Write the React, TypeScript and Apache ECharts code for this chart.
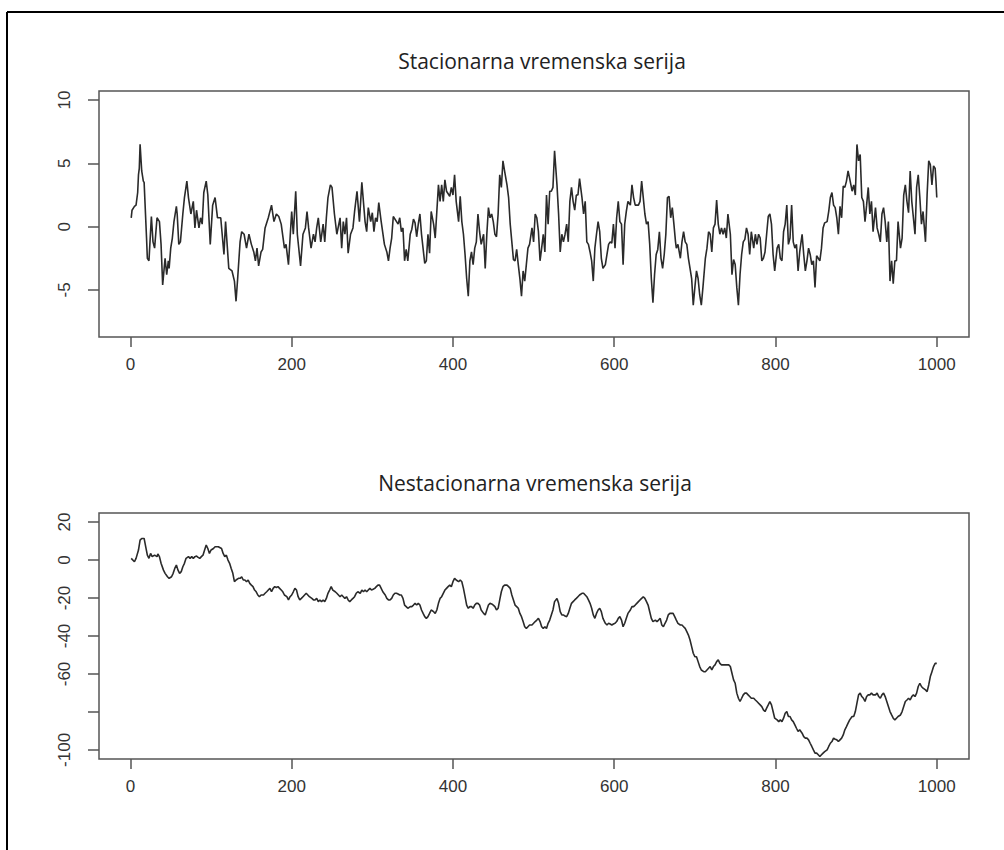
import React, { useEffect, useRef } from "react";
import * as echarts from "echarts";

// Axis ticks and labels
const xTicks = [0, 200, 400, 600, 800, 1000];
const stationaryTicks = [-5, 0, 5, 10];
const randomWalkTicks = [-100, -80, -60, -40, -20, 0, 20];
const randomWalkLabels = [-100, -60, -40, -20, 0, 20];

// Data limits (R-style axes add 4% on each side)
const xLimits = [1, 1000];
const stationaryLimits = [-8, 10];
const randomWalkLimits = [-100, 20];

const stationaryTitle = "Stacionarna vremenska serija";
const randomWalkTitle = "Nestacionarna vremenska serija";

// Stationary series: [t, value]
const stationary: [number, number][] = [
  [1,0.7],[2,1.3],[5,1.6],[7,1.7],[9,2.7],[10,4.1],[11,4.6],[12,6.5],[14,4.4],[16,3.6],[17,3.5],[20,-0.9],[21,-2.5],[23,-2.7],[26,0.8],[28,-1.2],[30,-1.7],[33,0.7],[36,0.4],[38,-1.4],[40,-4.6],[43,-2.5],[45,-3.8],[47,-2.7],[48,-3.3],[50,-1.7],[52,-0.9],[54,0.4],[57,1.6],[58,1.0],[60,-1.4],[62,-1.2],[65,1.0],[67,2.3],[70,3.6],[72,2.3],[75,1.0],[78,2.0],[80,-0.1],[82,1.3],[85,-0.1],[87,0.7],[89,0.2],[91,2.7],[94,3.6],[96,2.5],[99,-1.4],[102,1.7],[105,2.3],[108,0.7],[112,0.7],[116,-2.2],[118,0.4],[122,-3.3],[126,-3.5],[129,-4.3],[131,-5.9],[133,-4.1],[136,-1.2],[138,-0.4],[141,-0.6],[144,-1.7],[147,-0.6],[150,-1.4],[153,-2.0],[155,-2.7],[157,-1.7],[159,-3.1],[162,-2.0],[164,-1.8],[167,-0.1],[171,0.7],[175,1.7],[178,0.4],[181,1.0],[184,0.8],[187,0.2],[191,-1.7],[193,-1.4],[196,-3.0],[200,1.2],[202,-0.6],[205,2.8],[207,-0.6],[211,-3.1],[214,-0.6],[217,-0.1],[219,1.2],[221,-0.1],[224,-1.7],[227,-0.6],[229,-1.2],[231,-0.1],[233,0.7],[236,-1.2],[239,0.2],[241,-1.2],[243,0.7],[245,2.3],[248,3.3],[250,3.1],[253,1.0],[256,-0.6],[260,0.7],[262,-1.7],[264,0.4],[266,-0.6],[268,0.7],[270,-2.1],[273,-0.6],[276,-0.1],[278,1.2],[281,2.8],[284,0.4],[287,3.5],[291,0.4],[293,-0.4],[295,1.5],[298,0.4],[300,1.1],[302,-0.4],[304,0.7],[306,0.4],[308,1.9],[311,0.4],[315,-1.4],[318,-2.0],[320,-2.7],[322,-1.7],[324,-0.9],[326,0.8],[330,0.4],
  [332,0.2],[334,0.7],[336,-0.4],[338,-0.1],[340,-2.7],[342,-1.8],[344,-2.7],[347,-0.6],[349,-0.2],[351,0.6],[353,0.3],[355,-0.8],[357,0.2],[359,1.0],[361,-0.6],[365,-2.9],[367,-2.7],[369,-0.6],[371,-2.1],[373,1.2],[376,0.2],[378,-0.9],[380,1.2],[382,3.3],[384,2.0],[386,3.3],[388,2.0],[390,3.7],[392,2.8],[396,2.4],[398,3.1],[400,2.5],[402,4.1],[404,2.0],[407,0.4],[409,2.4],[411,0.4],[413,-0.6],[415,-2.2],[417,-4.1],[419,-5.5],[421,-2.7],[423,-2.0],[425,-3.0],[427,-1.7],[429,-1.2],[431,1.0],[433,-0.4],[435,-1.4],[438,-0.6],[440,-3.3],[442,-0.6],[444,1.5],[446,0.7],[448,1.0],[450,0.4],[452,-0.6],[454,-0.8],[456,1.0],[458,4.1],[460,3.1],[462,5.2],[464,4.4],[467,3.3],[469,2.3],[471,0.2],[473,-1.2],[475,-2.6],[477,-2.7],[479,-1.8],[481,-3.0],[483,-4.1],[485,-5.5],[487,-3.5],[489,-4.3],[491,-3.0],[493,-1.7],[495,-1.4],[498,-0.1],[500,-1.2],[502,1.0],[504,0.7],[506,-0.4],[508,-2.7],[510,-1.7],[512,-0.6],[514,-2.0],[516,2.5],[518,0.2],[520,2.8],[522,2.8],[524,3.1],[526,6.0],[529,3.3],[531,1.0],[533,-2.0],[535,-0.6],[537,-1.2],[539,-0.6],[541,0.2],[543,-1.2],[545,2.0],[547,3.1],[549,2.0],[551,1.3],[553,2.5],[555,2.5],[557,3.8],[560,2.3],[562,1.0],[564,2.0],[566,-1.2],[568,-1.4],[570,-2.0],[572,-2.7],[574,-4.3],[576,-1.7],[578,-0.6],[580,0.4],[582,-0.4],[584,-2.5],[586,-3.3],[589,-3.0],[591,-2.2],[593,-1.4],[595,-1.2],[597,-1.3],[599,0.2],[601,-1.7],[603,0.7],[605,2.0],[607,0.4],[609,0.2],[611,-3.0],[613,0.2],[615,1.2],[617,2.0],[620,1.7],[622,3.3],[624,2.3],[626,1.7],[628,1.7],[630,1.7],[632,2.0],[634,3.6],[636,2.3],[638,1.0],[640,0.2],[642,0.4],[644,-1.4],[646,-4.1],[648,-6.0],[650,-3.8],[652,-2.2],[654,-1.8],[656,-0.4],[658,-2.5],[660,-3.3],[662,-2.2],[664,-0.6],[666,2.3],[668,2.4],[670,0.7],[672,1.5],[674,0.2],
  [676,-1.2],[677,-1.7],[679,-1.4],[682,-2.5],[684,-1.2],[686,-0.4],[688,-1.2],[690,-1.4],[692,-2.5],[694,-3.3],[696,-4.1],[698,-6.2],[700,-4.8],[702,-3.5],[704,-4.1],[706,-5.4],[708,-6.2],[710,-4.8],[713,-2.5],[715,-1.7],[717,-0.4],[719,-0.6],[721,-2.0],[723,-0.1],[725,0.2],[727,2.1],[729,0.2],[731,-0.6],[733,-0.1],[735,-0.6],[737,-0.1],[739,-0.9],[741,1.0],[744,-0.6],[746,-3.8],[748,-2.6],[750,-3.0],[752,-4.8],[754,-6.2],[756,-3.8],[758,-2.2],[760,-1.2],[762,-1.0],[764,-0.1],[766,-0.6],[768,-2.2],[770,-0.4],[773,-1.7],[775,-0.6],[777,-1.4],[779,-0.6],[781,-0.9],[783,-2.7],[785,-2.5],[787,-2.0],[789,-0.6],[791,0.8],[793,1.0],[795,0.2],[797,-2.2],[799,-3.5],[802,-1.7],[804,-1.4],[806,-2.5],[808,-2.7],[810,-0.4],[812,0.2],[814,1.7],[816,-1.4],[818,-0.9],[820,1.7],[822,-1.2],[824,-1.7],[826,-1.4],[828,-3.5],[830,-2.0],[833,-0.6],[835,-2.2],[837,-3.5],[839,-2.7],[841,-1.7],[843,-2.2],[845,-3.0],[847,-2.7],[849,-4.8],[851,-2.3],[853,-2.5],[855,-2.7],[857,-1.7],[859,-0.1],[861,0.3],[864,0.4],[866,1.2],[868,2.3],[870,2.7],[872,1.7],[874,1.5],[876,0.7],[878,-0.6],[880,1.6],[882,0.7],[884,3.2],[886,3.1],[888,3.6],[890,4.4],[892,3.8],[895,2.8],[897,3.3],[899,2.5],[901,6.5],[903,5.2],[905,5.7],[907,2.3],[909,2.0],[911,0.4],[913,1.7],[915,3.1],[917,1.0],[919,2.0],[921,-0.4],[924,1.5],[926,-0.1],[928,-0.6],[930,-1.2],[932,1.0],[934,1.5],[936,0.4],[938,-1.2],[940,0.4],[942,-4.3],[944,-2.7],[946,-4.5],[948,-2.7],[950,-2.7],[952,0.4],[955,-1.7],[957,-0.9],[959,2.5],[961,3.3],[963,2.0],[965,1.1],[967,4.4],[969,2.0],[971,0.7],[973,-0.6],[975,3.1],[977,4.1],[979,2.3],[981,0.2],[983,1.2],[986,-1.2],[988,2.5],[990,5.2],[992,4.9],[994,3.3],[996,4.8],[998,4.6],[999,3.6],[1000,2.3],
];

// Non-stationary (random walk) series: [t, value]
const randomWalk: [number, number][] = [
  [1,0.9],[5,-0.9],[7,0.9],[10,5.3],[12,10.5],[14,11.4],[17,11.4],[19,7.0],[21,2.6],[23,0.9],[25,3.5],[27,1.8],[30,2.6],[33,1.8],[34,3.2],[36,1.8],[38,-1.7],[41,-5.3],[43,-7.0],[46,-8.8],[48,-9.6],[51,-8.8],[53,-7.0],[55,-4.4],[57,-2.6],[59,-5.3],[61,-7.0],[63,-6.1],[65,-3.5],[67,-1.7],[69,0.9],[72,1.8],[74,0.9],[76,1.8],[78,0.9],[80,1.8],[82,2.1],[84,1.4],[86,0.9],[88,1.8],[90,2.6],[92,5.3],[94,7.9],[96,6.1],[98,3.5],[100,5.3],[103,6.1],[105,7.0],[109,7.0],[113,6.1],[115,3.5],[117,1.8],[119,2.6],[121,0.0],[123,-1.7],[125,-4.4],[127,-7.0],[129,-11.4],[131,-10.5],[134,-9.6],[136,-9.6],[138,-8.8],[140,-10.5],[142,-10.5],[144,-11.4],[146,-10.5],[148,-12.3],[150,-13.2],[152,-14.0],[154,-15.8],[156,-16.7],[158,-18.4],[160,-19.3],[162,-18.4],[165,-18.4],[167,-17.5],[169,-16.7],[171,-15.8],[173,-14.9],[175,-16.7],[177,-14.9],[179,-14.0],[181,-14.4],[183,-14.0],[185,-14.9],[187,-15.8],[189,-16.7],[191,-18.4],[194,-19.3],[196,-21.0],[198,-19.3],[200,-18.4],[202,-16.7],[204,-14.9],[206,-15.8],[208,-19.3],[210,-21.0],[212,-20.2],[214,-19.3],[216,-18.4],[218,-17.5],[220,-18.4],[222,-19.3],[225,-20.2],[227,-21.0],[229,-21.0],[231,-20.2],[233,-21.9],[235,-21.0],[237,-21.9],[239,-21.0],[241,-21.9],[243,-20.2],[245,-17.5],[247,-15.8],[249,-14.0],[251,-15.8],[254,-16.7],[256,-17.5],[258,-18.4],[260,-19.3],[262,-18.4],[264,-19.3],[266,-20.2],[268,-19.3],[270,-21.0],[272,-21.9],[274,-21.0],[276,-20.2],[278,-19.3],[280,-17.5],[282,-16.7],[285,-17.5],[287,-15.8],[289,-16.7],[291,-15.8],[293,-16.7],[295,-15.8],[297,-14.9],[299,-15.8],[301,-15.4],[303,-14.9],[305,-14.0],[307,-13.2],[309,-13.2],[311,-14.9],[313,-16.7],[316,-18.4],[318,-20.2],[320,-21.0],[322,-21.0],[324,-20.2],[326,-18.4],[328,-17.5],[330,-17.5],[332,-17.9],[334,-18.4],[336,-18.4],[338,-20.2],[340,-23.7],
  [342,-24.5],[344,-25.4],[347,-24.5],[349,-24.5],[351,-23.7],[353,-22.8],[355,-23.7],[357,-22.8],[359,-23.7],[361,-26.3],[363,-28.1],[365,-29.8],[367,-30.7],[369,-29.8],[371,-28.1],[373,-26.3],[376,-27.2],[378,-28.1],[380,-26.3],[382,-22.8],[384,-20.2],[386,-19.3],[388,-17.5],[390,-15.8],[392,-14.9],[394,-14.0],[396,-13.2],[398,-14.0],[400,-11.4],[402,-9.6],[404,-10.5],[407,-11.4],[409,-10.5],[411,-11.4],[413,-14.9],[415,-19.3],[417,-23.7],[419,-25.4],[421,-24.5],[423,-24.5],[425,-25.4],[427,-23.7],[429,-22.8],[431,-22.8],[433,-23.7],[435,-26.3],[438,-28.1],[440,-28.9],[442,-26.3],[444,-23.7],[446,-22.8],[448,-23.1],[450,-23.7],[452,-24.5],[454,-26.3],[456,-25.4],[458,-21.0],[460,-16.7],[462,-14.0],[464,-13.2],[467,-13.2],[469,-14.0],[471,-14.9],[473,-18.4],[475,-21.0],[477,-23.7],[479,-24.5],[481,-25.4],[483,-28.1],[485,-29.8],[487,-32.4],[489,-35.1],[491,-36.0],[493,-35.1],[495,-34.2],[498,-34.2],[500,-33.3],[502,-32.4],[504,-31.6],[506,-30.7],[508,-32.4],[510,-35.1],[512,-36.0],[514,-35.1],[516,-36.0],[518,-33.3],[520,-31.6],[522,-28.9],[524,-26.3],[526,-21.9],[529,-20.2],[531,-22.8],[533,-27.2],[535,-28.9],[537,-28.9],[539,-29.5],[541,-29.8],[543,-28.1],[545,-25.4],[547,-22.8],[549,-21.9],[551,-21.0],[553,-20.2],[555,-19.3],[557,-18.4],[560,-17.5],[562,-17.5],[564,-18.4],[566,-19.3],[568,-21.0],[570,-22.8],[572,-25.4],[574,-28.9],[576,-30.7],[578,-28.1],[580,-26.3],[582,-25.4],[584,-27.2],[586,-30.7],[589,-33.3],[591,-34.2],[593,-33.3],[595,-33.7],[597,-34.2],[599,-33.7],[601,-33.3],[603,-32.4],[605,-30.7],[607,-29.8],[609,-31.6],[611,-35.1],[613,-33.3],[615,-30.7],[617,-28.1],[620,-26.3],[622,-24.5],[624,-24.5],[626,-23.7],[628,-22.8],[630,-21.9],[632,-21.0],[634,-20.2],[636,-19.3],[638,-20.2],[640,-21.9],[642,-23.7],[644,-27.2],[646,-30.7],[648,-32.4],[651,-31.6],[653,-32.4],[655,-31.6],[657,-30.7],[659,-34.2],[661,-35.1],[663,-33.3],
  [665,-31.6],[667,-28.9],[669,-28.1],[671,-28.1],[673,-28.1],[675,-29.8],[677,-31.6],[679,-33.3],[682,-34.2],[684,-34.2],[686,-35.1],[688,-36.0],[690,-37.7],[692,-39.5],[694,-42.1],[696,-45.6],[698,-49.1],[700,-50.9],[702,-50.9],[704,-53.5],[706,-56.1],[708,-57.9],[711,-58.8],[713,-58.8],[715,-57.9],[717,-57.0],[719,-56.1],[721,-57.9],[723,-56.1],[725,-55.2],[727,-53.5],[729,-52.6],[731,-54.4],[733,-55.2],[735,-55.2],[737,-55.2],[739,-55.2],[742,-55.2],[744,-56.1],[746,-59.6],[748,-63.1],[750,-64.9],[752,-70.1],[754,-72.8],[756,-74.5],[758,-72.8],[760,-71.0],[762,-70.1],[764,-70.1],[766,-71.0],[768,-71.9],[770,-72.8],[773,-72.8],[775,-73.7],[777,-74.5],[779,-75.4],[781,-76.3],[783,-77.2],[785,-78.9],[787,-79.8],[789,-78.0],[791,-76.3],[793,-74.5],[795,-76.3],[797,-79.8],[799,-83.3],[802,-84.2],[804,-85.1],[806,-84.2],[808,-85.1],[810,-83.3],[812,-80.7],[814,-79.8],[816,-82.4],[818,-82.4],[820,-84.2],[822,-85.1],[824,-86.8],[826,-88.6],[828,-90.3],[830,-89.4],[833,-91.2],[835,-93.0],[837,-93.8],[839,-93.8],[841,-94.7],[843,-96.5],[845,-98.2],[847,-100.0],[849,-101.7],[851,-101.7],[853,-102.6],[855,-103.5],[857,-102.6],[859,-101.7],[861,-100.9],[864,-100.0],[866,-98.2],[868,-96.5],[870,-95.6],[872,-93.8],[874,-94.4],[876,-94.7],[878,-95.6],[880,-94.7],[882,-93.8],[884,-92.1],[886,-89.4],[888,-87.7],[890,-85.9],[892,-84.2],[895,-82.4],[897,-82.4],[899,-79.8],[901,-75.4],[903,-71.0],[905,-70.1],[907,-71.9],[909,-72.8],[911,-74.5],[913,-71.9],[915,-71.0],[917,-71.0],[919,-70.1],[921,-71.0],[924,-71.0],[926,-70.1],[928,-71.9],[930,-72.8],[932,-71.0],[934,-70.1],[936,-71.9],[938,-74.5],[940,-77.2],[942,-79.8],[944,-81.6],[946,-83.3],[948,-84.2],[950,-83.3],[952,-82.4],[955,-81.6],[957,-79.8],[959,-77.2],[961,-74.5],[963,-73.7],[965,-72.8],[967,-73.7],[969,-71.9],[971,-71.0],[973,-71.9],[975,-70.1],[977,-66.6],[979,-64.9],[981,-66.6],[983,-67.5],[986,-68.4],[988,-69.3],[990,-65.8],[992,-61.4],[994,-58.8],[996,-56.1],[998,-54.4],[1000,-54.4],
];

const pad = (lim: number[]) => {
  const d = (lim[1] - lim[0]) * 0.04;
  return { min: lim[0] - d, max: lim[1] + d };
};

const FONT = "'Liberation Sans', Arial, sans-serif";
const TITLE_FONT = "'Open Sans', 'DejaVu Sans', sans-serif";
const AXIS_GREY = "#555";
const TEXT_COLOR = "#333";
const plain = (v: number) => String(v);

function xAxisFor(gridIndex: number) {
  const r = pad(xLimits);
  return {
    type: "value" as const,
    gridIndex,
    min: r.min,
    max: r.max,
    axisLine: { show: false, onZero: false },
    splitLine: { show: false },
    axisTick: {
      show: true,
      customValues: xTicks,
      length: 10,
      lineStyle: { color: AXIS_GREY, width: 1.5 },
    },
    axisLabel: {
      customValues: xTicks,
      formatter: plain,
      margin: 19,
      fontSize: 17,
      fontFamily: FONT,
      color: TEXT_COLOR,
    },
  };
}

function yAxisFor(gridIndex: number, lim: number[], ticks: number[], labels: number[]) {
  const r = pad(lim);
  return {
    type: "value" as const,
    gridIndex,
    min: r.min,
    max: r.max,
    axisLine: { show: false, onZero: false },
    splitLine: { show: false },
    axisTick: {
      show: true,
      customValues: ticks,
      length: 11,
      lineStyle: { color: AXIS_GREY, width: 1.5 },
    },
    axisLabel: {
      customValues: labels,
      formatter: plain,
      rotate: 90,
      margin: 26,
      fontSize: 17,
      fontFamily: FONT,
      color: TEXT_COLOR,
    },
  };
}

export default function App() {
  const ref = useRef<HTMLDivElement>(null);

  useEffect(() => {
    if (!ref.current) return;
    const chart = echarts.init(ref.current, undefined, { renderer: "svg" });
    chart.setOption({
      animation: false,
      backgroundColor: "#fff",
      grid: [
        { left: 99, top: 91, width: 870, height: 246, show: true, borderColor: AXIS_GREY, borderWidth: 1.5, backgroundColor: "transparent" },
        { left: 99, top: 513, width: 870, height: 246, show: true, borderColor: AXIS_GREY, borderWidth: 1.5, backgroundColor: "transparent" },
      ],
      xAxis: [xAxisFor(0), xAxisFor(1)],
      yAxis: [
        yAxisFor(0, stationaryLimits, stationaryTicks, stationaryTicks),
        yAxisFor(1, randomWalkLimits, randomWalkTicks, randomWalkLabels),
      ],
      series: [
        {
          type: "line",
          xAxisIndex: 0,
          yAxisIndex: 0,
          data: stationary,
          showSymbol: false,
          symbol: "none",
          lineStyle: { color: "#2a2a2a", width: 1.6 },
        },
        {
          type: "line",
          xAxisIndex: 1,
          yAxisIndex: 1,
          data: randomWalk,
          showSymbol: false,
          symbol: "none",
          lineStyle: { color: "#2a2a2a", width: 1.6 },
        },
      ],
      graphic: [
        { type: "line", shape: { x1: 7, y1: 12, x2: 1004, y2: 12 }, style: { stroke: "#000", lineWidth: 2 } },
        { type: "line", shape: { x1: 7, y1: 12, x2: 7, y2: 850 }, style: { stroke: "#000", lineWidth: 2 } },
        {
          type: "text",
          x: 542,
          y: 61,
          style: { text: stationaryTitle, align: "center", verticalAlign: "middle", fontSize: 21, fontFamily: TITLE_FONT, fill: "#222" },
        },
        {
          type: "text",
          x: 535,
          y: 483,
          style: { text: randomWalkTitle, align: "center", verticalAlign: "middle", fontSize: 21, fontFamily: TITLE_FONT, fill: "#222" },
        },
      ],
    });
    return () => chart.dispose();
  }, []);

  return (
    <div
      ref={ref}
      style={{ position: "fixed", left: 0, top: 0, width: 1004, height: 850, background: "#fff" }}
    />
  );
}
